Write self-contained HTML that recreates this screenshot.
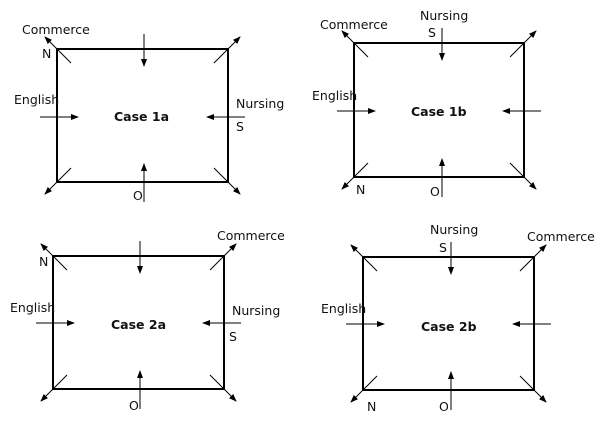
<!DOCTYPE html>
<html><head><meta charset="utf-8"><style>
html,body{margin:0;padding:0;background:#fff;}
svg{display:block;}
text{font-family:"DejaVu Sans","Liberation Sans",sans-serif;font-size:12.5px;fill:#111;}
.b{font-weight:bold;font-size:12.5px;}
</style></head><body>
<svg width="604" height="429" viewBox="0 0 604 429" xmlns="http://www.w3.org/2000/svg">
<defs><marker id="a" markerWidth="8" markerHeight="8" refX="7" refY="4" orient="auto" markerUnits="userSpaceOnUse"><path d="M0,1 L8,4 L0,7 z" fill="#000"/></marker></defs>
<g id="g" stroke="#000" fill="none"></g>
<text x="22" y="34">Commerce</text><text x="42" y="58">N</text><text x="14" y="104">English</text>
<text x="236" y="108">Nursing</text><text x="236" y="131">S</text><text x="133" y="200">O</text>
<text class="b" x="114" y="121">Case 1a</text>

<text x="420" y="20">Nursing</text><text x="428" y="37">S</text><text x="320" y="29">Commerce</text>
<text x="312" y="100">English</text><text x="356" y="194">N</text><text x="430" y="196">O</text>
<text class="b" x="411" y="116">Case 1b</text>

<text x="217" y="240">Commerce</text><text x="39" y="266">N</text><text x="10" y="312">English</text>
<text x="232" y="315">Nursing</text><text x="229" y="341">S</text><text x="129" y="410">O</text>
<text class="b" x="111" y="329">Case 2a</text>

<text x="430" y="234">Nursing</text><text x="439" y="252">S</text><text x="527" y="241">Commerce</text>
<text x="321" y="313">English</text><text x="367" y="411">N</text><text x="439" y="411">O</text>
<text class="b" x="421" y="331">Case 2b</text>
</svg>
<script>
var g=document.getElementById('g'),s='';
function L(x1,y1,x2,y2,w,m){s+='<line x1="'+x1+'" y1="'+y1+'" x2="'+x2+'" y2="'+y2+'" stroke-width="'+(w||1)+'"'+(m?' marker-end="url(#a)"':'')+'/>';}
function box(x0,y0,x1,y1,cx,cy){
 s+='<rect x="'+x0+'" y="'+y0+'" width="'+(x1-x0)+'" height="'+(y1-y0)+'" stroke-width="2"/>';
 L(cx,y0-15,cx,y0+17,1,1);L(cx,y1+20,cx,y1-18,1,1);
 L(x0-17,cy,x0+21,cy,1,1);L(x1+17,cy,x1-21,cy,1,1);
 var i=14,o=12;
 L(x0+i,y0+i,x0-o,y0-o,1,1);L(x1-i,y0+i,x1+o,y0-o,1,1);
 L(x0+i,y1-i,x0-o,y1+o,1,1);L(x1-i,y1-i,x1+o,y1+o,1,1);
}
box(57,49,228,182,144,117);
box(354,43,524,177,442,111);
box(53,256,224,389,140,323);
box(363,257,534,390,451,324);
g.innerHTML=s;
</script>
</body></html>
